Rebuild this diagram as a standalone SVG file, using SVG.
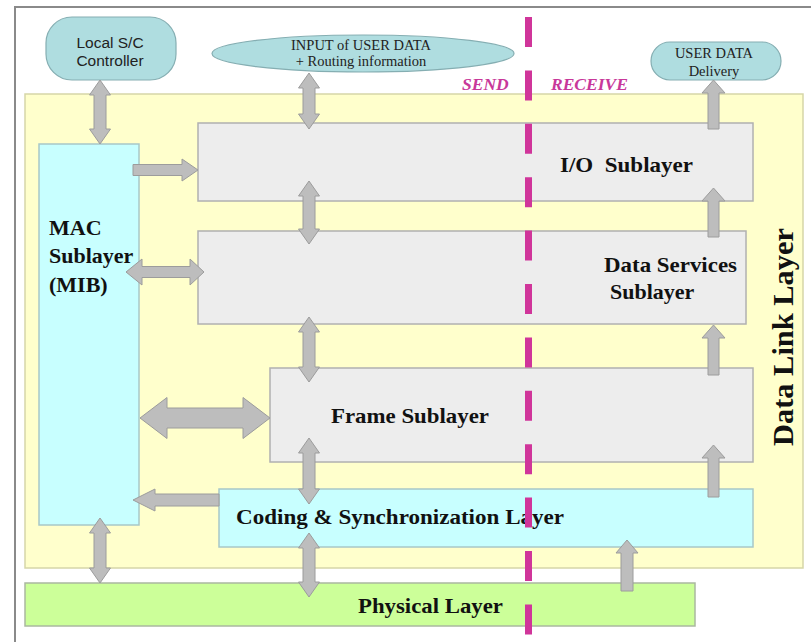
<svg xmlns="http://www.w3.org/2000/svg" width="811" height="642" viewBox="0 0 811 642">
  <defs>
    <style>
      .panel { fill: #ffffcc; stroke: #d6d6a8; stroke-width: 1.5; }
      .sub { fill: #ededed; stroke: #b0b0b0; stroke-width: 1.5; }
      .cyan { fill: #c8ffff; stroke: #a8c8c8; stroke-width: 1.5; }
      .green { fill: #ccff99; stroke: #aab8a0; stroke-width: 1.5; }
      .ext { fill: #afdde0; stroke: #85aeb2; stroke-width: 1.2; }
      .arr { fill: #bdbdbd; stroke: #9c9c9c; stroke-width: 1; }
      .big { font-family: "Liberation Serif", "Times New Roman", serif; font-weight: bold; font-size: 22px; fill: #111; }
      .small { font-family: "Liberation Serif", "Times New Roman", serif; font-size: 14.5px; fill: #222; }
      .sans { font-family: "Liberation Sans", Arial, sans-serif; font-size: 15.5px; fill: #222; }
      .dir { font-family: "Liberation Serif", "Times New Roman", serif; font-weight: bold; font-style: italic; font-size: 17.5px; fill: #c8389a; }
      .divider { stroke: #d0359a; stroke-width: 7; stroke-dasharray: 30 23.4; }
    </style>
  </defs>

  <rect x="0" y="0" width="811" height="642" fill="#ffffff"/>
  <!-- outer frame -->
  <path d="M15,642 V7 H811" fill="none" stroke="#8a8a8a" stroke-width="2"/>

  <!-- Data Link Layer panel -->
  <g id="data-link-layer">
    <rect class="panel" x="25" y="94" width="778" height="474"/>
    <text class="big" text-anchor="middle" transform="translate(793,337) rotate(-90)" style="font-size:29px" textLength="218" lengthAdjust="spacingAndGlyphs">Data Link Layer</text>
  </g>

  <g id="local-sc-controller">
    <rect class="ext" x="46" y="17" width="130" height="63" rx="26" ry="26"/>
    <text class="sans" x="110" y="48" text-anchor="middle">Local S/C</text>
    <text class="sans" x="110" y="66" text-anchor="middle">Controller</text>
  </g>

  <g id="input-user-data">
    <ellipse class="ext" cx="363" cy="53.5" rx="151" ry="18.5"/>
    <text class="small" x="361" y="50" text-anchor="middle">INPUT of USER DATA</text>
    <text class="small" x="361" y="66" text-anchor="middle">+ Routing information</text>
  </g>

  <g id="user-data-delivery">
    <rect class="ext" x="651" y="42" width="130" height="38" rx="19" ry="19"/>
    <text class="small" x="714" y="58" text-anchor="middle">USER DATA</text>
    <text class="small" x="714" y="76" text-anchor="middle">Delivery</text>
  </g>

  <g id="io-sublayer">
    <rect class="sub" x="198" y="123" width="555" height="78"/>
    <text class="big" x="560" y="172" textLength="133" lengthAdjust="spacingAndGlyphs" xml:space="preserve">I/O  Sublayer</text>
  </g>

  <g id="data-services-sublayer">
    <rect class="sub" x="198" y="231" width="548" height="93"/>
    <text class="big" x="604" y="272" textLength="133" lengthAdjust="spacingAndGlyphs">Data Services</text>
    <text class="big" x="610" y="299">Sublayer</text>
  </g>

  <g id="frame-sublayer">
    <rect class="sub" x="270" y="368" width="483" height="94"/>
    <text class="big" x="331" y="423" textLength="158" lengthAdjust="spacingAndGlyphs">Frame Sublayer</text>
  </g>

  <g id="coding-sync-layer">
    <rect class="cyan" x="219" y="489" width="534" height="58"/>
    <text class="big" x="236" y="524" textLength="328" lengthAdjust="spacingAndGlyphs">Coding &amp; Synchronization Layer</text>
  </g>

  <g id="mac-sublayer">
    <rect class="cyan" x="39" y="144" width="100" height="381"/>
    <text class="big" x="49" y="235">MAC</text>
    <text class="big" x="49" y="263">Sublayer</text>
    <text class="big" x="49" y="292">(MIB)</text>
  </g>

  <g id="physical-layer">
    <rect class="green" x="25" y="583" width="670" height="43"/>
    <text class="big" x="358" y="613" textLength="145" lengthAdjust="spacingAndGlyphs">Physical Layer</text>
  </g>

  <!-- send / receive divider -->
  <g id="send-receive">
    <line class="divider" x1="528.5" y1="17" x2="528.5" y2="636"/>
    <text class="dir" x="462" y="90">SEND</text>
    <text class="dir" x="551" y="90">RECEIVE</text>
  </g>

  <!-- connectors -->
  <g id="connectors">
    <!-- controller <-> MAC -->
    <polygon class="arr" points="100,80 110.5,95 106,95 106,129 110.5,129 100,144 89.5,129 94,129 94,95 89.5,95"/>
    <!-- input <-> I/O -->
    <polygon class="arr" points="309,73 319.5,88 315,88 315,114 319.5,114 309,129 298.5,114 303,114 303,88 298.5,88"/>
    <!-- MAC -> I/O -->
    <polygon class="arr" points="133,164.5 182,164.5 182,159 198,170 182,181 182,175.5 133,175.5"/>
    <!-- I/O <-> data services -->
    <polygon class="arr" points="309,181 319.5,196 315,196 315,229 319.5,229 309,244 298.5,229 303,229 303,196 298.5,196"/>
    <!-- MAC <-> data services -->
    <polygon class="arr" points="126,272 142,259 142,266.5 190,266.5 190,259 204,272 190,285 190,277.5 142,277.5 142,285"/>
    <!-- data services <-> frame -->
    <polygon class="arr" points="309,317 319.5,332 315,332 315,367 319.5,367 309,382 298.5,367 303,367 303,332 298.5,332"/>
    <!-- MAC <-> frame -->
    <polygon class="arr" points="140,418 167,397.5 167,408 243,408 243,397.5 270,418 243,438.5 243,428 167,428 167,438.5"/>
    <!-- frame <-> coding -->
    <polygon class="arr" points="309,438 319.5,453 315,453 315,489 319.5,489 309,504 298.5,489 303,489 303,453 298.5,453"/>
    <!-- coding -> MAC -->
    <polygon class="arr" points="133,500 155,489 155,494 219,494 219,506 155,506 155,511"/>
    <!-- MAC <-> physical -->
    <polygon class="arr" points="100,518 110.5,533 106,533 106,568 110.5,568 100,583 89.5,568 94,568 94,533 89.5,533"/>
    <!-- coding <-> physical -->
    <polygon class="arr" points="309,533 319.5,548 315,548 315,582 319.5,582 309,597 298.5,582 303,582 303,548 298.5,548"/>
    <!-- receive path (upward) -->
    <polygon class="arr" points="627,540 638,553 633,553 633,591 621,591 621,553 616,553"/>
    <polygon class="arr" points="713.5,445 725,458 719,458 719,497 708,497 708,458 702,458"/>
    <polygon class="arr" points="713.5,325 725,338 719,338 719,375 708,375 708,338 702,338"/>
    <polygon class="arr" points="713.5,188 725,201 719,201 719,237 708,237 708,201 702,201"/>
    <polygon class="arr" points="713.5,80 725,93 719,93 719,129 708,129 708,93 702,93"/>
  </g>
</svg>
